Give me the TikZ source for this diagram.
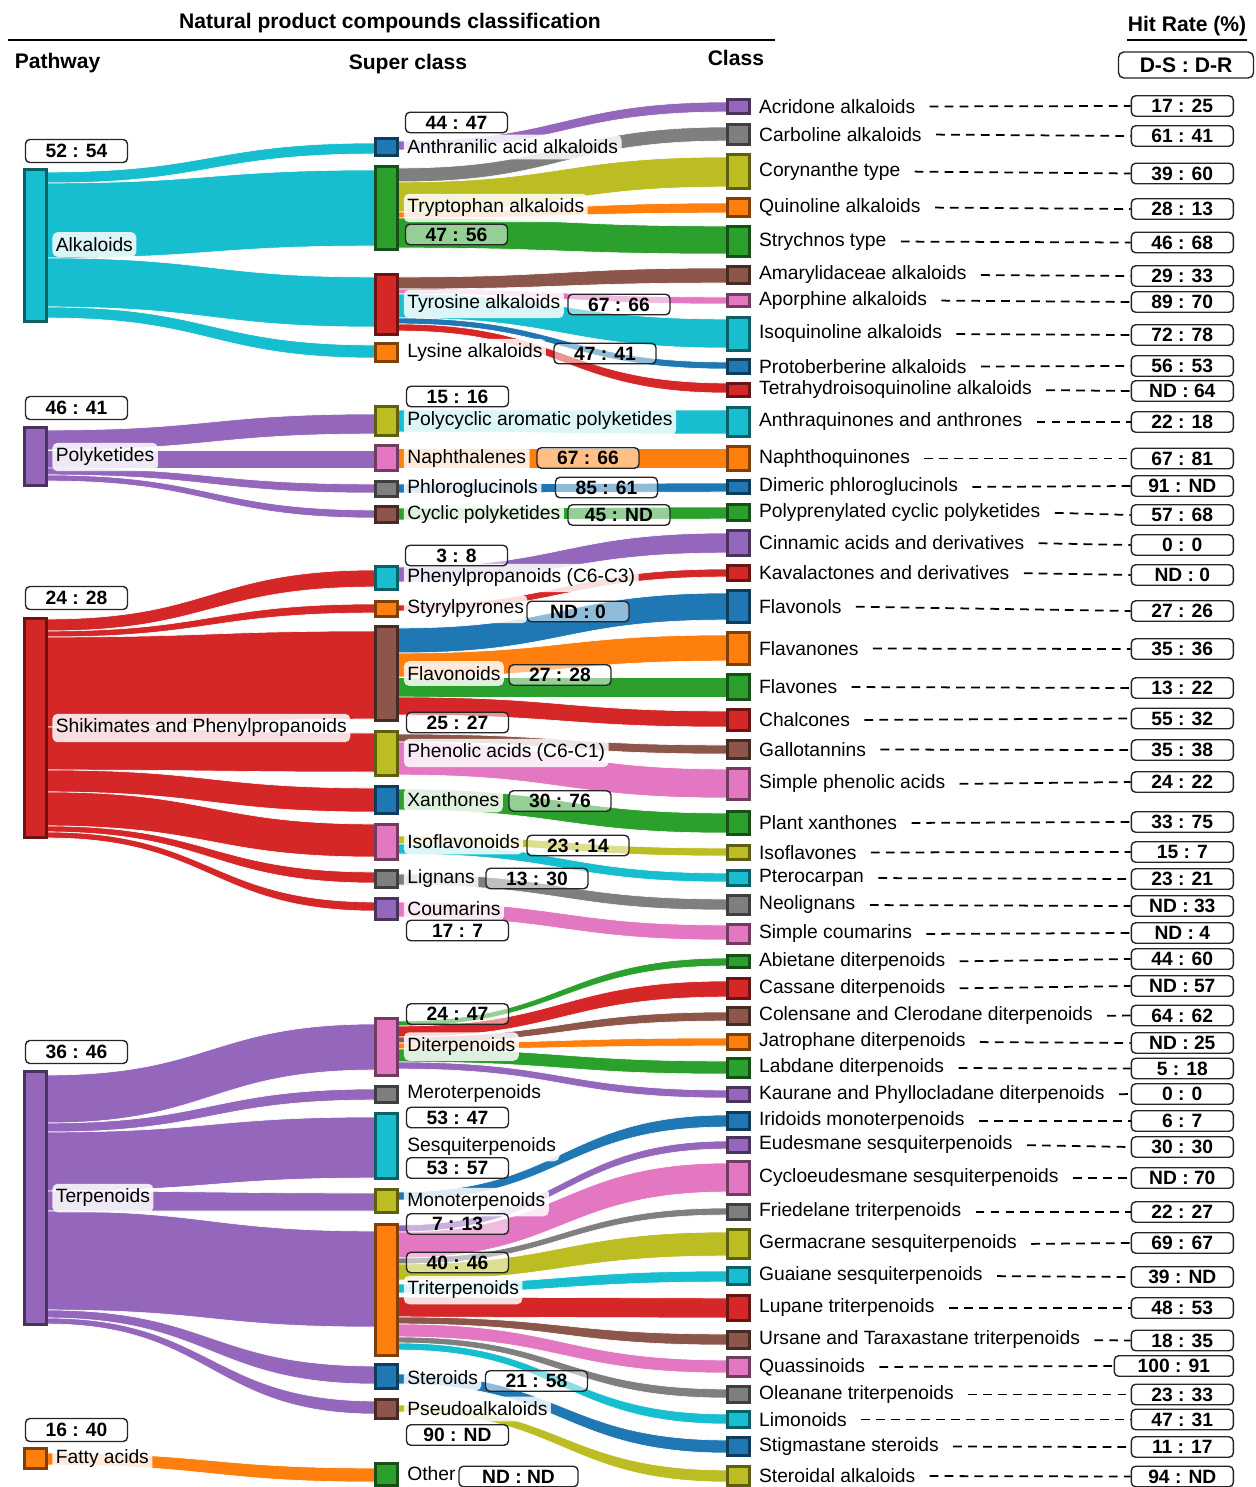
\documentclass[tikz,border=0pt,11pt]{standalone}
\usepackage{fontspec}
\setmainfont{Liberation Sans}
\usetikzlibrary{calc}
\pgfdeclarelayer{bg}
\pgfsetlayers{bg,main}
\definecolor{tblue}{HTML}{1F77B4}
\definecolor{torange}{HTML}{FF7F0E}
\definecolor{tgreen}{HTML}{2CA02C}
\definecolor{tred}{HTML}{D62728}
\definecolor{tpurple}{HTML}{9467BD}
\definecolor{tbrown}{HTML}{8C564B}
\definecolor{tpink}{HTML}{E377C2}
\definecolor{tgray}{HTML}{7F7F7F}
\definecolor{tolive}{HTML}{BCBD22}
\definecolor{tcyan}{HTML}{17BECF}
\tikzset{
  barnode/.style={draw=#1!50!black, fill=#1, line width=1.8pt, minimum width=0.5cm-1.8pt, inner sep=0pt, outer sep=0pt},
  ratebox/.style={draw=black!85, line width=.8pt, rounded corners=2.5pt, fill=white, fill opacity=.5, text opacity=1, font=\bfseries, minimum width=2.04cm, minimum height=.41cm, inner sep=0pt},
  slab/.style={anchor=west, fill=white, fill opacity=.85, text opacity=1, rounded corners=3pt, inner xsep=2pt, inner ysep=3pt},
  clab/.style={anchor=west, inner sep=1pt},
  leader/.style={dash pattern=on 5pt off 3.5pt, line width=1pt, shorten <=7pt},
  head/.style={font=\large\bfseries}
}
\newcommand{\band}[7]{%
  \path (#2.east |- 0,#3) coordinate (a1) (#2.east |- 0,#4) coordinate (a2)
        (#5.west |- 0,#6) coordinate (b1) (#5.west |- 0,#7) coordinate (b2)
        ($(a1)!.5!(b1)$) coordinate (m);
  \fill[#1, draw=white, line width=.35pt] (a1) .. controls (m |- a1) and (m |- b1) .. (b1) -- (b2) .. controls (m |- b2) and (m |- a2) .. (a2) -- cycle;}
\begin{document}
\begin{tikzpicture}[x=0.02cm, y=-0.02cm]
\useasboundingbox (0,0) rectangle (1255,1487);

\node[head] (ttl) at (390,23) {Natural product compounds classification};
\draw[line width=1.1pt] (8,40) -- (775,40);
\node[head, anchor=west] (pw) at (8,63) {Pathway};
\node[head, anchor=west] (sc) at (342,64) {Super class};
\node[head, anchor=west] (cl) at (701,58) {Class};
\node[head] (hr) at (1187,26) {Hit Rate (\%)};
\draw[line width=1.1pt] (1127,40) -- (1247,40);
\node[head, draw=black!85, line width=.8pt, rounded corners=3pt, minimum width=2.7cm, minimum height=.52cm, inner sep=0pt] (dsdr) at (1186,65) {D-S : D-R};

\foreach \nm/\col/\ya/\yb in {alk/tcyan/168/323, pk/tpurple/426/487, shik/tred/617/839, terp/tpurple/1070/1326, fat/torange/1447/1470}
  \node[barnode=\col, minimum height={(\yb-\ya)*0.02cm-1.8pt}] (\nm) at (35.5,{(\ya+\yb)/2}) {};

\node[slab] (alk-l) at (52,244.5) {Alkaloids};
\node[slab] (pk-l) at (52,457) {Polyketides};
\node[slab] (shik-l) at (52,728) {Shikimates and Phenylpropanoids};
\node[slab] (terp-l) at (52,1198) {Terpenoids};
\node[slab] (fat-l) at (52,1459) {Fatty acids};

\node[ratebox, minimum height=.46cm] (alk-r) at (76.5,151) {52 : 54};
\node[ratebox, minimum height=.46cm] (pk-r) at (76.5,408) {46 : 41};
\node[ratebox, minimum height=.46cm] (shik-r) at (76.5,598) {24 : 28};
\node[ratebox, minimum height=.46cm] (terp-r) at (76.5,1052) {36 : 46};
\node[ratebox, minimum height=.46cm] (fat-r) at (76.5,1430) {16 : 40};

\foreach \nm/\col/\ya/\yb/\txt/\ly in {
  anth/tblue/137/157/Anthranilic acid alkaloids/147,
  tryp/tgreen/165/251/Tryptophan alkaloids/208,
  tyro/tred/273/336/Tyrosine alkaloids/304,
  lys/torange/342/363/Lysine alkaloids/353,
  polyc/tolive/405/437/Polycyclic aromatic polyketides/421,
  naph/tpink/444/472/Naphthalenes/458.5,
  phlo/tgray/480/498/Phloroglucinols/489,
  cyc/tbrown/505/524/Cyclic polyketides/515,
  phen/tcyan/565/591/Phenylpropanoids (C6-C3)/578,
  styr/torange/600/618/Styrylpyrones/609,
  flav/tbrown/625/722/Flavonoids/673.5,
  phac/tolive/730/777/Phenolic acids (C6-C1)/753,
  xan/tblue/785/815/Xanthones/800,
  isof/tpink/823/861/Isoflavonoids/842,
  lig/tgray/869/889/Lignans/879,
  coum/tpurple/897/921/Coumarins/909,
  dit/tpink/1017/1077/Diterpenoids/1046.5,
  mer/tgray/1085/1104/Meroterpenoids/1094,
  ses/tcyan/1112/1180/Sesquiterpenoids/1147,
  mono/tolive/1188/1214/Monoterpenoids/1202,
  trit/torange/1223/1357/Triterpenoids/1290,
  ster/tblue/1363/1390/Steroids/1378,
  pseu/tbrown/1398/1420/Pseudoalkaloids/1409,
  oth/tgreen/1462/1487/Other/1473.5}
{
  \node[barnode=\col, minimum height={(\yb-\ya)*0.02cm-1.8pt}] (\nm) at (386.5,{(\ya+\yb)/2}) {};
  \node[slab] (\nm-l) at (403.5,\ly) {\txt};
}

\foreach \nm/\col/\ya/\yb/\txt/\hit/\hy/\bw in {
  acr/tpurple/98/115/Acridone alkaloids/17 : 25/106/102,
  carb/tgray/123/146/Carboline alkaloids/61 : 41/136/102,
  cory/tolive/153/190/Corynanthe type/39 : 60/173.5/102,
  quin/torange/197/218/Quinoline alkaloids/28 : 13/209/102,
  stry/tgreen/225/258/Strychnos type/46 : 68/242.5/102,
  amar/tbrown/265/285/Amarylidaceae alkaloids/29 : 33/276/102,
  apor/tpink/293/308/Aporphine alkaloids/89 : 70/302/102,
  isoq/tcyan/316/352/Isoquinoline alkaloids/72 : 78/335/102,
  prot/tblue/358/375/Protoberberine alkaloids/56 : 53/366/102,
  tetr/tred/382/398/Tetrahydroisoquinoline alkaloids/ND : 64/391/102,
  aq/tcyan/406/438/Anthraquinones and anthrones/22 : 18/422/102,
  nq/torange/445/472/Naphthoquinones/67 : 81/458.5/102,
  dim/tblue/479/495/Dimeric phloroglucinols/91 : ND/486/102,
  ppc/tgreen/503/522/Polyprenylated cyclic polyketides/57 : 68/515/102,
  cinn/tpurple/529/557/Cinnamic acids and derivatives/0 : 0/545/102,
  kava/tred/564/582/Kavalactones and derivatives/ND : 0/575/102,
  fols/tblue/589/624/Flavonols/27 : 26/611/102,
  fans/torange/631/666/Flavanones/35 : 36/649/102,
  fones/tgreen/673/701/Flavones/13 : 22/688/102,
  chal/tred/708/732/Chalcones/55 : 32/718.5/102,
  gall/tbrown/739/760/Gallotannins/35 : 38/750/102,
  spa/tpink/767/801/Simple phenolic acids/24 : 22/782/102,
  pxan/tgreen/810/836/Plant xanthones/33 : 75/822/102,
  ifl/tolive/844/861/Isoflavones/15 : 7/852/102,
  ptero/tcyan/869/887/Pterocarpan/23 : 21/879/102,
  neol/tgray/894/916/Neolignans/ND : 33/906/102,
  scou/tpink/923/945/Simple coumarins/ND : 4/933/102,
  abie/tgreen/954/969/Abietane diterpenoids/44 : 60/959/102,
  cass/tred/977/1000/Cassane diterpenoids/ND : 57/986/102,
  cole/tbrown/1006/1026/Colensane and Clerodane diterpenoids/64 : 62/1015.5/102,
  jatr/torange/1033/1051/Jatrophane diterpenoids/ND : 25/1043/102,
  labd/tgreen/1057/1079/Labdane diterpenoids/5 : 18/1068.5/102,
  kaur/tpurple/1086/1103/Kaurane and Phyllocladane diterpenoids/0 : 0/1094/102,
  irid/tblue/1111/1131/Iridoids monoterpenoids/6 : 7/1121/102,
  eude/tpurple/1136/1154/Eudesmane sesquiterpenoids/30 : 30/1147/102,
  cyeu/tpink/1160/1196/Cycloeudesmane sesquiterpenoids/ND : 70/1178/102,
  frie/tgray/1203/1221/Friedelane triterpenoids/22 : 27/1212/102,
  germ/tolive/1228/1260/Germacrane sesquiterpenoids/69 : 67/1243/102,
  guai/tcyan/1266/1286/Guaiane sesquiterpenoids/39 : ND/1277/102,
  lupa/tred/1294/1322/Lupane triterpenoids/48 : 53/1308/102,
  ursa/tbrown/1330/1350/Ursane and Taraxastane triterpenoids/18 : 35/1340.5/102,
  quas/tpink/1356/1378/Quassinoids/100 : 91/1366/119,
  olea/tgray/1385/1404/Oleanane triterpenoids/23 : 33/1394.5/102,
  limo/tcyan/1410/1429/Limonoids/47 : 31/1419.5/102,
  stig/tblue/1436/1457/Stigmastane steroids/11 : 17/1447/102,
  stal/tolive/1465/1487/Steroidal alkaloids/94 : ND/1476.5/102}
{
  \node[barnode=\col, minimum height={(\yb-\ya)*0.02cm-1.8pt}] (\nm) at (738.5,{(\ya+\yb)/2}) {};
  \node[clab] (\nm-l) at (757,{(\ya+\yb)/2}) {\txt};
  \node[ratebox, anchor=east, minimum width={\bw*0.02cm}] (\nm-r) at (1234,\hy) {\hit};
  \draw[leader] (\nm-l.east) -- (\nm-r.west);
}

\node[ratebox] (anth-r) at (456.5,122.5) {44 : 47};
\node[ratebox] (tryp-r) at (456.5,234.5) {47 : 56};
\node[ratebox] (tyro-r) at (619,304.5) {67 : 66};
\node[ratebox] (lys-r) at (605,353.5) {47 : 41};
\node[ratebox] (polyc-r) at (457.5,396.5) {15 : 16};
\node[ratebox] (naph-r) at (588,458) {67 : 66};
\node[ratebox] (phlo-r) at (606.5,487.5) {85 : 61};
\node[ratebox] (cyc-r) at (619,515) {45 : ND};
\node[ratebox] (phen-r) at (456.5,555.5) {3 : 8};
\node[ratebox] (styr-r) at (578,611.5) {ND : 0};
\node[ratebox] (flav-r) at (560,675) {27 : 28};
\node[ratebox] (phac-r) at (457.5,722.5) {25 : 27};
\node[ratebox] (xan-r) at (560,801) {30 : 76};
\node[ratebox] (isof-r) at (578,845.5) {23 : 14};
\node[ratebox] (lig-r) at (537,878.5) {13 : 30};
\node[ratebox] (coum-r) at (457.5,930.5) {17 : 7};
\node[ratebox] (dit-r) at (457.5,1014) {24 : 47};
\node[ratebox] (ses-r1) at (457.5,1117.5) {53 : 47};
\node[ratebox] (ses-r2) at (457.5,1168) {53 : 57};
\node[ratebox] (mono-r) at (457.5,1224) {7 : 13};
\node[ratebox] (trit-r) at (457.5,1262.5) {40 : 46};
\node[ratebox] (ster-r) at (536.5,1381) {21 : 58};
\node[ratebox] (pseu-r) at (457.5,1435) {90 : ND};
\node[ratebox, minimum width=2.38cm] (oth-r) at (518.5,1476.5) {ND : ND};

\begin{pgfonlayer}{bg}
\fill[white] (0,0) rectangle (1255,1487);
\foreach \c/\s/\a/\b/\t/\p/\q in {
  tcyan/alk/172/183/anth/143/154, tcyan/alk/183/258/tryp/170/246,
  tcyan/alk/258/307/tyro/277/327, tcyan/alk/307/318/lys/345/358,
  tpurple/pk/430/450/polyc/414/434, tpurple/pk/450/468/naph/450/468,
  tpurple/pk/468/475/phlo/484/493, tpurple/pk/475/481/cyc/510/518,
  tred/shik/619/631/phen/570/587, tred/shik/631/637/styr/604/613,
  tred/shik/637/727/flav/631/719, tred/shik/727/770/phac/733/772,
  tred/shik/770/792/xan/788/812, tred/shik/792/826/isof/824/857,
  tred/shik/826/832/lig/872/883, tred/shik/832/838/coum/902/911,
  tpurple/terp/1075/1123/dit/1024/1070, tpurple/terp/1123/1132/mer/1089/1100,
  tpurple/terp/1132/1191/ses/1117/1178, tpurple/terp/1191/1211/mono/1193/1211,
  tpurple/terp/1211/1310/trit/1231/1327, tpurple/terp/1310/1318/ster/1366/1384,
  tpurple/terp/1318/1324/pseu/1401/1414, torange/fat/1453/1465/oth/1468/1482,
  tpurple/anth/141/150/acr/102/112, tgray/tryp/168/182/carb/127/141,
  tolive/tryp/182/212/cory/157/187, torange/tryp/212/218/quin/203/213,
  tgreen/tryp/218/248/stry/226/254, tbrown/tyro/277/289/amar/268/283,
  tpink/tyro/289/294/apor/297/304, tcyan/tyro/294/318/isoq/319/348,
  tblue/tyro/318/324/prot/362/369, tred/tyro/324/331/tetr/383/393,
  tcyan/polyc/410/432/aq/410/434, torange/naph/448/468/nq/448/468,
  tblue/phlo/484/493/dim/483/492, tgreen/cyc/508/520/ppc/507/519,
  tpurple/phen/567/582/cinn/533/553, tred/styr/605/611/kava/569/577,
  tblue/flav/628/653/fols/593/620, torange/flav/653/677/fans/635/661,
  tgreen/flav/677/697/fones/677/697, tred/flav/697/715/chal/711/727,
  tbrown/phac/734/742/gall/745/754, tpink/phac/742/775/spa/769/798,
  tgreen/xan/789/810/pxan/813/833, tolive/isof/836/844/ifl/848/856,
  tcyan/isof/844/854/ptero/873/882, tgray/lig/874/885/neol/899/910,
  tpink/coum/902/917/scou/925/940, tgreen/dit/1021/1026/abie/958/966,
  tred/dit/1026/1037/cass/981/997, tbrown/dit/1037/1043/cole/1012/1021,
  torange/dit/1043/1049/jatr/1038/1046, tgreen/dit/1049/1062/labd/1061/1074,
  tpurple/dit/1062/1069/kaur/1090/1098, tblue/mono/1192/1200/irid/1115/1127,
  tpurple/trit/1225/1232/eude/1141/1149, tpink/trit/1232/1258/cyeu/1163/1192,
  tgray/trit/1258/1264/frie/1208/1215, tolive/trit/1264/1280/germ/1232/1256,
  tcyan/trit/1284/1293/guai/1271/1282, tred/trit/1297/1317/lupa/1298/1318,
  tbrown/trit/1317/1324/ursa/1334/1345, tpink/trit/1324/1337/quas/1360/1373,
  tgray/trit/1337/1343/olea/1389/1398, tcyan/trit/1343/1350/limo/1414/1424,
  tblue/ster/1374/1384/stig/1440/1453, tolive/pseu/1405/1412/stal/1470/1482}
  \band{\c}{\s}{\a}{\b}{\t}{\p}{\q};
\end{pgfonlayer}
\end{tikzpicture}
\end{document}
